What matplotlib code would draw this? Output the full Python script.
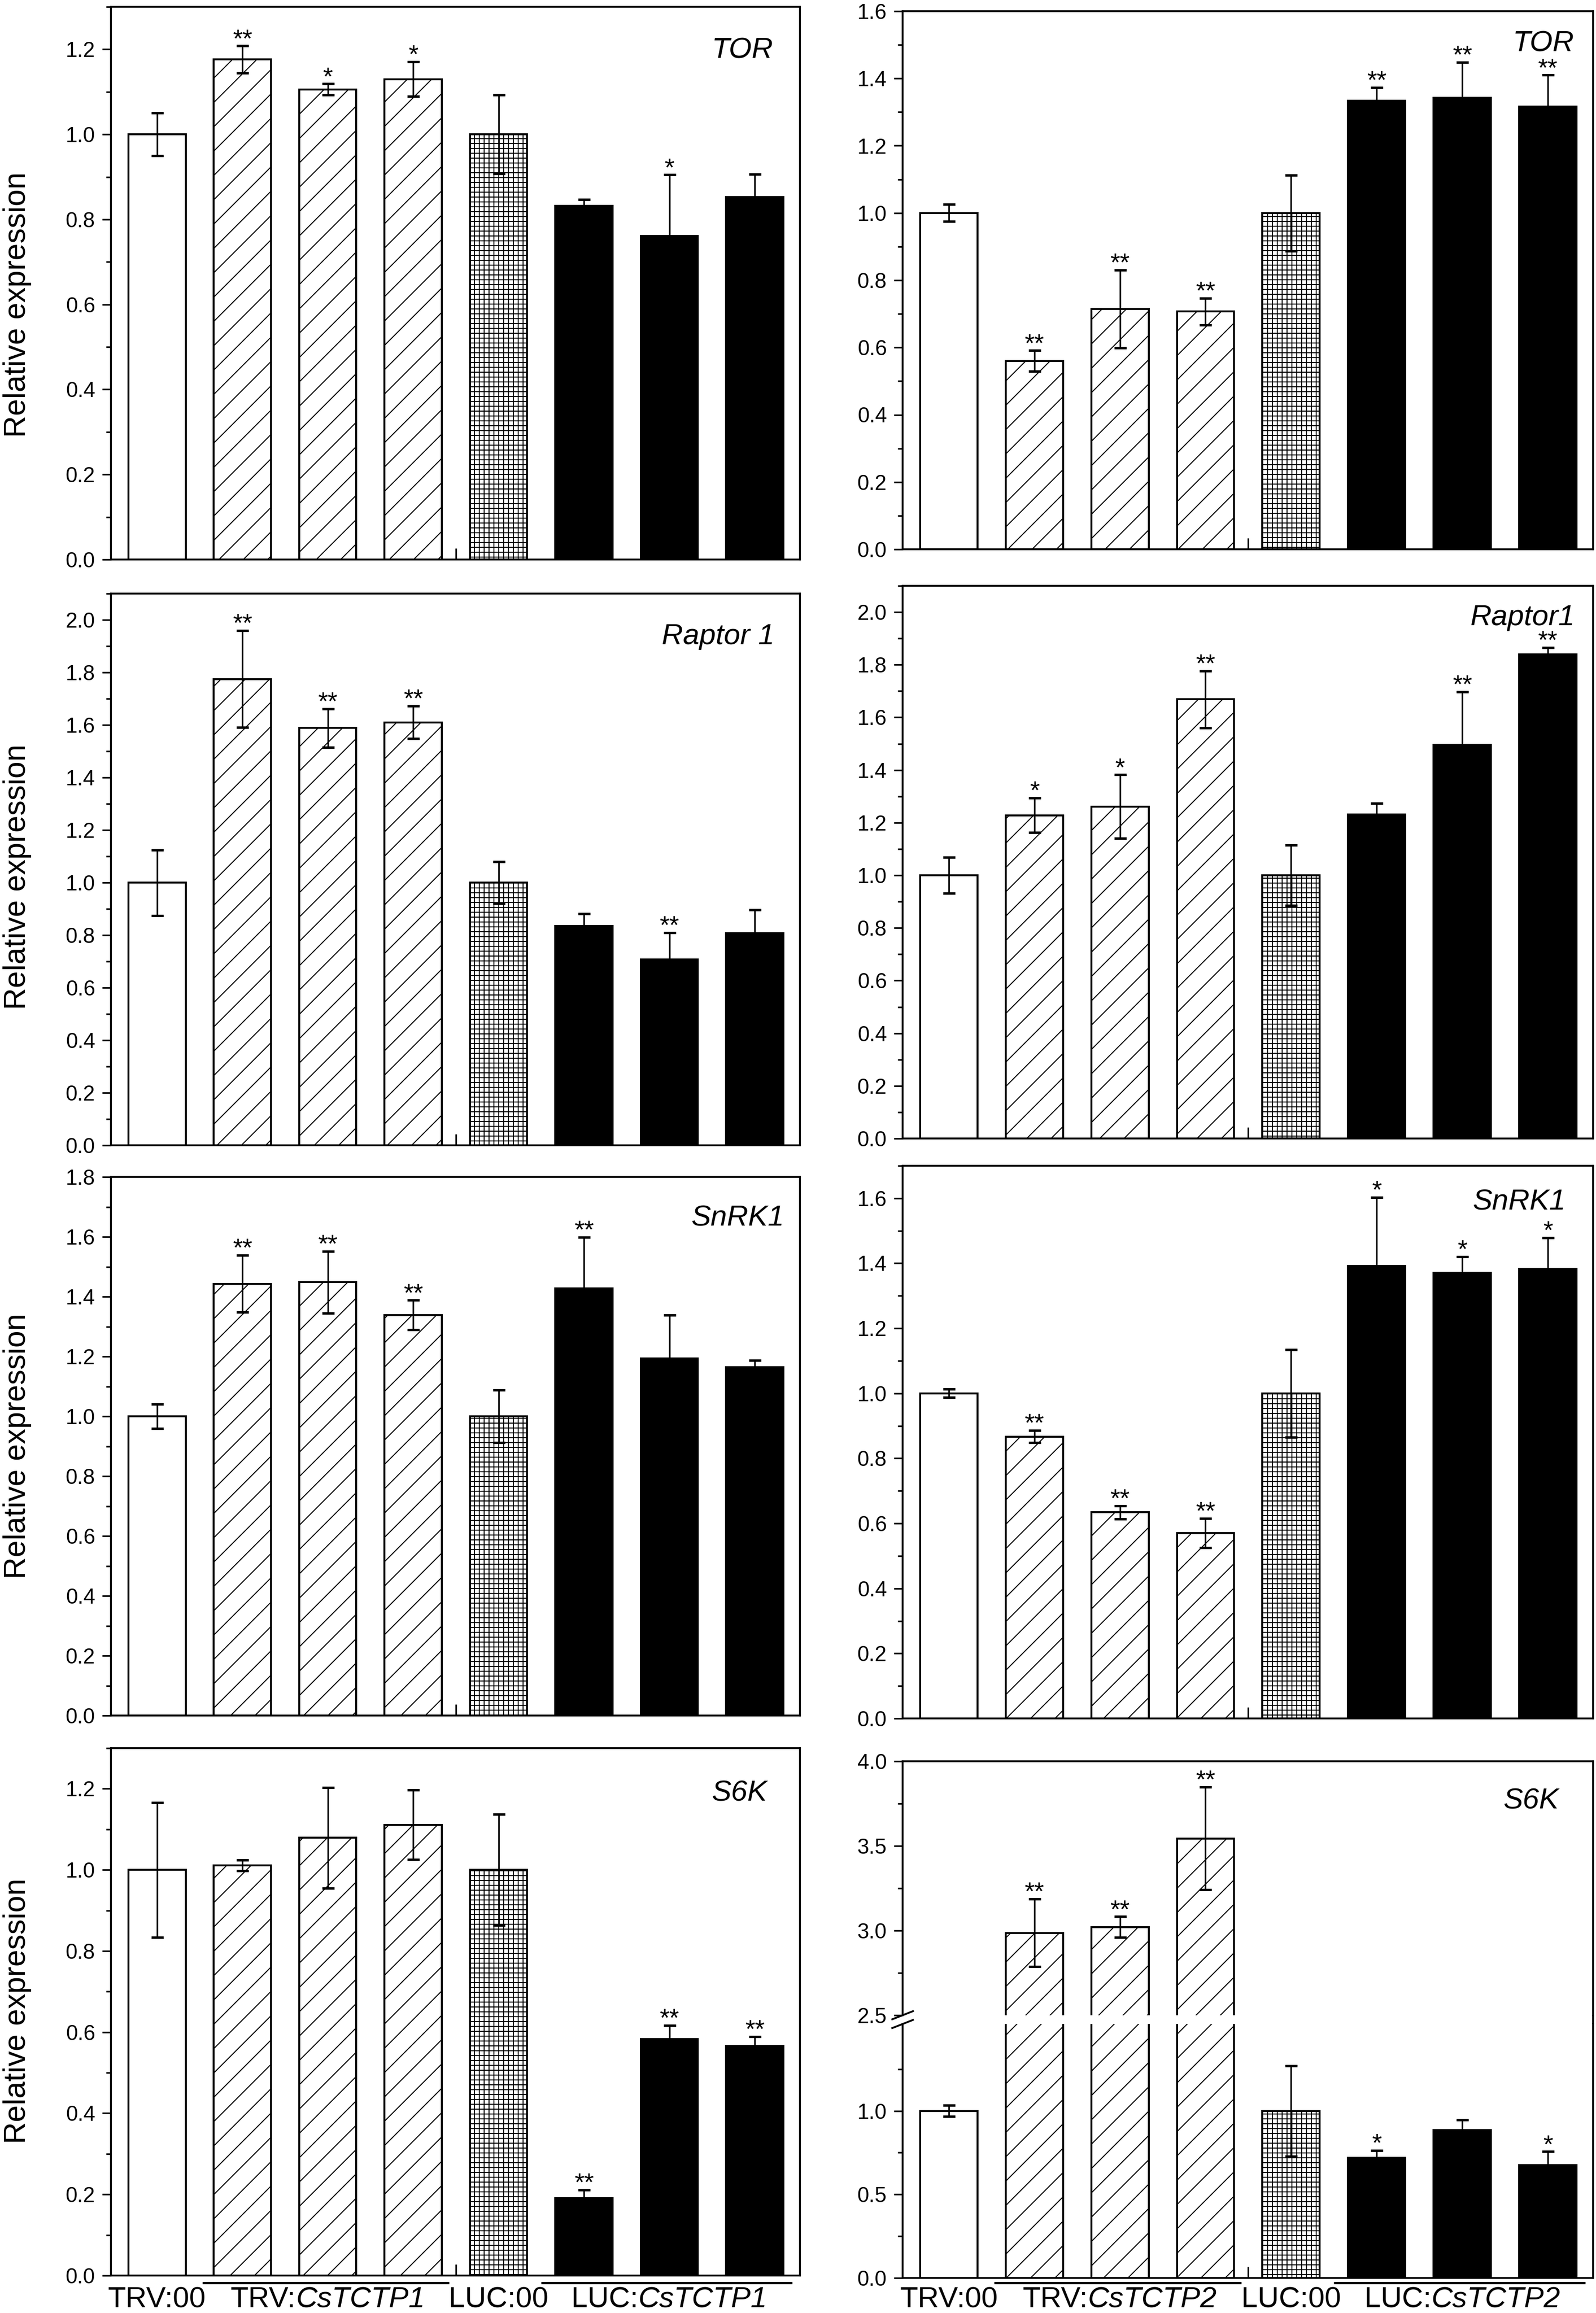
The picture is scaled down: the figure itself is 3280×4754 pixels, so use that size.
import numpy as np
import matplotlib
matplotlib.use('Agg')
import matplotlib.pyplot as plt
import matplotlib.transforms as mtransforms
from matplotlib.ticker import MultipleLocator, FixedLocator, FormatStrFormatter
from matplotlib.offsetbox import TextArea, HPacker, AnnotationBbox

plt.rcParams['font.family'] = ['Liberation Sans', 'DejaVu Sans']
plt.rcParams['hatch.linewidth'] = 0.5

# ---- data ----
# group labels: (plain part, italic part)
groups_left = [('TRV:00', ''), ('TRV:', 'CsTCTP1'), ('LUC:00', ''), ('LUC:', 'CsTCTP1')]
groups_right = [('TRV:00', ''), ('TRV:', 'CsTCTP2'), ('LUC:00', ''), ('LUC:', 'CsTCTP2')]
group_centre = [0, 2, 4, 6]

tor_l_mean = [1.0, 1.176, 1.106, 1.130, 1.0, 0.832, 0.761, 0.853]
tor_l_err = [0.050, 0.032, 0.013, 0.041, 0.093, 0.015, 0.144, 0.053]
tor_l_sig = ['', '**', '*', '*', '', '', '*', '']

tor_r_mean = [1.0, 0.560, 0.715, 0.707, 1.0, 1.334, 1.342, 1.316]
tor_r_err = [0.025, 0.031, 0.116, 0.040, 0.113, 0.039, 0.106, 0.094]
tor_r_sig = ['', '**', '**', '**', '', '**', '**', '**']

rap_l_mean = [1.0, 1.775, 1.588, 1.610, 1.0, 0.836, 0.708, 0.807]
rap_l_err = [0.125, 0.185, 0.074, 0.062, 0.079, 0.045, 0.102, 0.090]
rap_l_sig = ['', '**', '**', '**', '', '', '**', '']

rap_r_mean = [1.0, 1.228, 1.261, 1.669, 1.0, 1.232, 1.495, 1.840]
rap_r_err = [0.069, 0.066, 0.121, 0.108, 0.114, 0.042, 0.202, 0.025]
rap_r_sig = ['', '*', '*', '**', '', '', '**', '**']

snrk_l_mean = [1.0, 1.443, 1.448, 1.339, 1.0, 1.428, 1.194, 1.164]
snrk_l_err = [0.040, 0.095, 0.104, 0.049, 0.088, 0.171, 0.145, 0.023]
snrk_l_sig = ['', '**', '**', '**', '', '**', '', '']

snrk_r_mean = [1.0, 0.867, 0.634, 0.570, 1.0, 1.392, 1.371, 1.382]
snrk_r_err = [0.013, 0.019, 0.020, 0.045, 0.135, 0.211, 0.049, 0.097]
snrk_r_sig = ['', '**', '**', '**', '', '*', '*', '*']

s6k_l_mean = [1.0, 1.011, 1.079, 1.111, 1.0, 0.191, 0.583, 0.566]
s6k_l_err = [0.166, 0.013, 0.124, 0.086, 0.137, 0.020, 0.034, 0.023]
s6k_l_sig = ['', '', '', '', '', '**', '**', '**']

s6k_r_mean = [1.0, 2.987, 3.021, 3.544, 1.0, 0.718, 0.886, 0.676]
s6k_r_err = [0.034, 0.200, 0.061, 0.304, 0.271, 0.045, 0.059, 0.080]
s6k_r_sig = ['', '**', '**', '**', '', '*', '', '*']

x = np.arange(8)
face = ['white'] * 5 + ['black'] * 3
hatch = [None, '//', '//', '//', '+++++', None, None, None]

W, H = 3280, 4754
fig = plt.figure(figsize=(W / 300, H / 300), dpi=300)


def rect(x0, y0, x1, y1):
    return [x0 / W, 1 - y1 / H, (x1 - x0) / W, (y1 - y0) / H]


def style(ax, ylim, major, minor):
    ax.set_xlim(-0.54, 7.53)
    ax.set_ylim(*ylim)
    ax.yaxis.set_major_locator(major)
    ax.yaxis.set_minor_locator(minor)
    ax.yaxis.set_major_formatter(FormatStrFormatter('%.1f'))
    ax.set_xticks([3.5])
    ax.set_xticklabels([''])
    ax.tick_params(axis='x', direction='in', length=5.5, width=0.8)
    ax.tick_params(axis='y', which='major', direction='out', length=4.3,
                   width=0.8, labelsize=10.5, pad=3.5)
    ax.tick_params(axis='y', which='minor', direction='out', length=2.5, width=0.8)
    for s in ax.spines.values():
        s.set_linewidth(0.9)


def draw(ax, mean, err, sig):
    bars = ax.bar(x, mean, width=0.67, color=face, edgecolor='black',
                  linewidth=0.95, zorder=2)
    for b, h in zip(bars, hatch):
        b.set_hatch(h)
    ax.errorbar(x, mean, yerr=err, fmt='none', ecolor='black', elinewidth=0.8,
                capsize=3, capthick=1.2, zorder=3)
    for xi, m, e, s in zip(x, mean, err, sig):
        if s:
            ax.annotate(s, (xi, m + e), xytext=(0, -0.5), textcoords='offset points',
                        ha='center', va='baseline', fontsize=12.5)


def gene(ax, name, px, py):
    ax.text(px, py, name, transform=ax.transAxes, ha='right', va='center_baseline',
            fontsize=14.5, style='italic')


def group_labels(ax, labels):
    tr = mtransforms.blended_transform_factory(ax.transData, fig.transFigure)
    for xc, (plain, ital) in zip(group_centre, labels):
        parts = [TextArea(plain, textprops=dict(fontsize=14.5))]
        if ital:
            parts.append(TextArea(ital, textprops=dict(fontsize=14.5, style='italic')))
        box = HPacker(children=parts, align='baseline', pad=0, sep=0)
        ab = AnnotationBbox(box, (xc, 1 - 4727 / H), xycoords=tr, frameon=False,
                            box_alignment=(0.5, 0.5), pad=0, annotation_clip=False)
        ax.add_artist(ab)
    for x0, x1 in [(0.53, 3.42), (4.5, 7.44)]:
        ax.plot([x0, x1], [1 - 4692 / H] * 2, color='black', lw=1.1,
                transform=tr, clip_on=False, solid_capstyle='butt')


panels = [
    (rect(228, 14, 1644, 1150), tor_l_mean, tor_l_err, tor_l_sig, (0, 1.3), 'TOR', 0.961, 0.926),
    (rect(1855, 23, 3274, 1129), tor_r_mean, tor_r_err, tor_r_sig, (0, 1.6), 'TOR', 0.9725, 0.945),
    (rect(228, 1220, 1644, 2354), rap_l_mean, rap_l_err, rap_l_sig, (0, 2.1), 'Raptor 1', 0.963, 0.927),
    (rect(1855, 1204, 3274, 2340), rap_r_mean, rap_r_err, rap_r_sig, (0, 2.1), 'Raptor1', 0.973, 0.948),
    (rect(228, 2419, 1644, 3526), snrk_l_mean, snrk_l_err, snrk_l_sig, (0, 1.8), 'SnRK1', 0.977, 0.929),
    (rect(1855, 2396, 3274, 3532), snrk_r_mean, snrk_r_err, snrk_r_sig, (0, 1.7), 'SnRK1', 0.96, 0.939),
    (rect(228, 3593, 1644, 4677), s6k_l_mean, s6k_l_err, s6k_l_sig, (0, 1.3), 'S6K', 0.952, 0.92),
]

axes = []
for r, mean, err, sig, yl, name, gx, gy in panels:
    ax = fig.add_axes(r)
    draw(ax, mean, err, sig)
    style(ax, yl, MultipleLocator(0.2), MultipleLocator(0.1))
    gene(ax, name, gx, gy)
    axes.append(ax)

group_labels(axes[-1], groups_left)

# broken axis for S6K (right)
up_px, lo_px = (3620, 4142), (4160, 4682)
ax_up = fig.add_axes(rect(1855, up_px[0], 3274, up_px[1]))
ax_lo = fig.add_axes(rect(1855, lo_px[0], 3274, lo_px[1]))
draw(ax_up, s6k_r_mean, s6k_r_err, s6k_r_sig)
draw(ax_lo, s6k_r_mean, s6k_r_err, s6k_r_sig)
style(ax_up, (2.5, 4.0), MultipleLocator(0.5), MultipleLocator(0.25))
style(ax_lo, (0, 1.52), FixedLocator([0, 0.5, 1.0]), FixedLocator([0.25, 0.75, 1.25]))
ax_up.spines['bottom'].set_visible(False)
ax_up.set_xticks([])
ax_lo.spines['top'].set_visible(False)
gene(ax_up, 'S6K', 0.95, 0.854)

# right spine runs through the gap, break marks on the left
gap = (lo_px[0] - up_px[1]) / (lo_px[1] - lo_px[0])
ax_lo.plot([1, 1], [1, 1 + gap], color='black', lw=0.9, transform=ax_lo.transAxes,
           clip_on=False, solid_capstyle='butt')
dx, dy = 0.015, 0.016
ax_up.plot([-dx, dx], [-dy, dy], color='black', lw=0.9, transform=ax_up.transAxes, clip_on=False)
ax_lo.plot([-dx, dx], [1 - dy, 1 + dy], color='black', lw=0.9, transform=ax_lo.transAxes, clip_on=False)
group_labels(ax_lo, groups_right)

for yc in [626, 1802, 2972, 4133]:
    fig.text(36 / W, 1 - yc / H, 'Relative expression', rotation=90,
             ha='center', va='center', fontsize=15)

fig.savefig('out.png', dpi=300)
